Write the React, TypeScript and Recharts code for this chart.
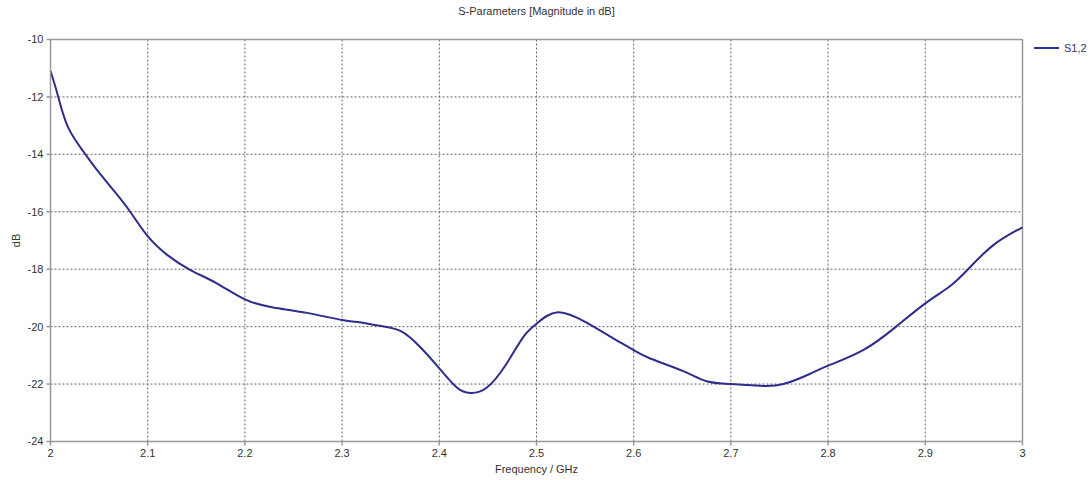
import { LineChart, Line, XAxis, YAxis, CartesianGrid, Legend, ReferenceLine } from 'recharts';

// S1,2 magnitude
const frequencies = [
  2.0, 2.008, 2.018, 2.034, 2.048, 2.066, 2.082, 2.1, 2.12, 2.144, 2.171, 2.2, 2.229, 2.264,
  2.3, 2.318, 2.339, 2.36, 2.38, 2.4, 2.418, 2.432, 2.449, 2.469, 2.486, 2.5, 2.522, 2.552,
  2.579, 2.6, 2.617, 2.651, 2.675, 2.7, 2.73, 2.754, 2.781, 2.8, 2.836, 2.87, 2.9, 2.925,
  2.944, 2.97, 3.0,
];
const s12 = [
  -11.09, -12.0, -13.05, -13.91, -14.55, -15.3, -16.0, -16.85, -17.5, -18.03, -18.49, -19.05,
  -19.33, -19.52, -19.77, -19.85, -19.97, -20.15, -20.7, -21.45, -22.12, -22.31, -22.12, -21.3,
  -20.38, -19.9, -19.5, -19.87, -20.41, -20.82, -21.11, -21.55, -21.9, -22.0, -22.06, -22.0,
  -21.65, -21.36, -20.82, -20.0, -19.19, -18.6, -18.0, -17.16, -16.54,
];
const xTicks = [2, 2.1, 2.2, 2.3, 2.4, 2.5, 2.6, 2.7, 2.8, 2.9, 3];
const yTicks = [-24, -22, -20, -18, -16, -14, -12, -10];

const data = frequencies.map((f, i) => ({ f, s12: s12[i] }));

const FONT = '"Liberation Sans", Arial, sans-serif';
const LINE_COLOR = '#2d2d8c';
const AXIS_COLOR = '#999';
const tickStyle = { fontSize: 11, fill: '#333', fontFamily: FONT };

const LegendContent = () => (
  <svg width={60} height={20}>
    <line x1={4} y1={10} x2={29} y2={10} stroke={LINE_COLOR} strokeWidth={2} />
    <text x={34} y={14} fontSize={11} fill="#33337a" fontFamily={FONT}>S1,2</text>
  </svg>
);

const App = () => {
  return (
    <div style={{ position: 'absolute', left: 0, top: 0, width: 1091, height: 480, background: '#fff' }}>
      <div
        style={{
          position: 'absolute', top: 5, left: 50, width: 973, textAlign: 'center',
          fontSize: 11, color: '#333', fontFamily: FONT,
        }}
      >
        S-Parameters [Magnitude in dB]
      </div>
      <LineChart width={1091} height={480} data={data} margin={{ top: 39.5, right: 68.5, left: 0, bottom: 3.5 }}>
        <CartesianGrid stroke="#666" strokeDasharray="2 2" />
        <XAxis
          dataKey="f"
          type="number"
          domain={[2, 3]}
          ticks={xTicks}
          height={35}
          tickFormatter={(v: number) => String(Number(v.toFixed(1)))}
          tick={tickStyle}
          tickSize={4}
          tickMargin={4}
          stroke={AXIS_COLOR}
          strokeWidth={1.5}
          label={{ value: 'Frequency / GHz', position: 'insideBottom', offset: 4, style: { fontSize: 11, fill: '#333', fontFamily: FONT } }}
        />
        <YAxis
          type="number"
          domain={[-24, -10]}
          ticks={yTicks}
          width={50.5}
          tick={tickStyle}
          tickSize={4}
          tickMargin={3}
          stroke={AXIS_COLOR}
          strokeWidth={1.5}
          label={{
            content: ({ viewBox }: any) => {
              const cx = 16;
              const cy = viewBox.y + viewBox.height / 2;
              return (
                <text x={cx} y={cy} transform={`rotate(-90 ${cx} ${cy})`} textAnchor="middle" dominantBaseline="central" fontSize={11} fill="#333" fontFamily={FONT}>
                  dB
                </text>
              );
            },
          }}
        />
        <ReferenceLine y={-10} stroke={AXIS_COLOR} strokeWidth={1.5} />
        <ReferenceLine x={3} stroke={AXIS_COLOR} strokeWidth={1.5} />
        <Legend
          layout="horizontal"
          verticalAlign="middle"
          align="center"
          content={LegendContent}
          wrapperStyle={{ left: 1030, top: 38, width: 60, height: 20 }}
        />
        <Line
          type="natural"
          dataKey="s12"
          name="S1,2"
          stroke={LINE_COLOR}
          strokeWidth={2}
          dot={false}
          isAnimationActive={false}
        />
      </LineChart>
    </div>
  );
};

export default App;
